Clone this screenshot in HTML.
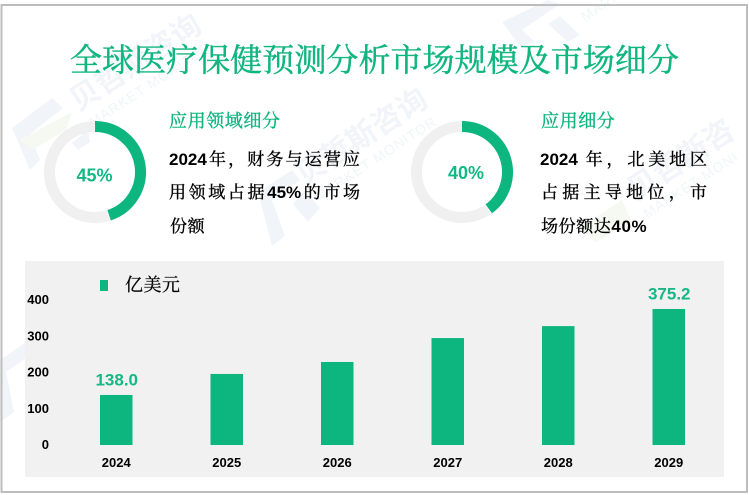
<!DOCTYPE html>
<html lang="zh">
<head>
<meta charset="utf-8">
<title>全球医疗保健预测分析市场规模及市场细分</title>
<style>
html,body{margin:0;padding:0;background:#fff;overflow:hidden;}
body{width:749px;height:495px;overflow:hidden;position:relative;}
svg{position:absolute;left:0;top:0;display:block;}
.sans{font-family:"Liberation Sans","Noto Sans CJK SC",sans-serif;font-weight:700;}
.line{position:absolute;white-space:nowrap;font-family:"Liberation Sans","Noto Serif CJK SC",serif;font-size:17px;line-height:22px;height:22px;color:#000;text-align:justify;text-align-last:justify;text-justify:inter-character;-webkit-text-stroke:.35px #000;}
.line.free{text-align-last:left;letter-spacing:.6px;}
.line b{font-family:"Liberation Sans",sans-serif;font-weight:700;-webkit-text-stroke:0;}
.head{position:absolute;white-space:nowrap;font-family:"Noto Serif CJK SC",serif;color:#10b57f;font-size:18px;letter-spacing:.6px;line-height:24px;-webkit-text-stroke:.4px #10b57f;}
</style>
</head>
<body>
<svg id="art" width="749" height="495" viewBox="0 0 749 495">
  <g fill="#f1f5f9">
    <g transform="translate(141,71) rotate(-33)">
      <text text-anchor="middle" font-family="Noto Sans CJK SC" font-size="30" font-weight="700">贝哲斯咨询</text>
      <text y="21" text-anchor="middle" font-family="Liberation Sans" font-size="14" letter-spacing="1">MARKET MONITOR</text>
    </g>
    <g transform="translate(367,145) rotate(-33)">
      <text text-anchor="middle" font-family="Noto Sans CJK SC" font-size="30" font-weight="700">贝哲斯咨询</text>
      <text y="21" text-anchor="middle" font-family="Liberation Sans" font-size="14" letter-spacing="1">MARKET MONITOR</text>
    </g>
    <g transform="translate(636,201) rotate(-33)">
      <text font-family="Noto Sans CJK SC" font-size="30" font-weight="700">贝哲斯咨</text>
      <text y="21" font-family="Liberation Sans" font-size="14" letter-spacing="1">MARKET MONI</text>
    </g>
    <g transform="translate(585,22) rotate(-33)">
      <text font-family="Liberation Sans" font-size="14" letter-spacing="1">MARK</text>
    </g>
    <polygon points="12,128 52,98 63,108 30,134 40,160 30,170"/>
    <polygon points="72,143 88,130 90,142 78,150"/>
    <polygon fill="#f6f9f1" points="20,140 72,112 66,130 32,150"/>
    <polygon points="258,192 292,170 300,180 272,200 285,236 272,246"/>
    <polygon points="305,190 320,208 308,222 293,204"/>
    <polygon points="502,22 548,0 560,4 522,30 535,42 520,46"/>
    <polygon points="560,16 580,35 568,42 548,24"/>
    <polygon fill="#f6f9f1" points="580,228 622,200 632,222 596,242"/>
    <polygon points="0,360 26,342 26,358 6,372 14,412 0,422"/>
  </g>
  <rect x="1.5" y="5" width="745.5" height="487" fill="none" stroke="#bdbdbd" stroke-width="2"/>
  <text x="70" y="71" font-size="32" letter-spacing=".05" fill="#10b57f" stroke="#10b57f" stroke-width=".45" style="font-family:'Noto Serif CJK SC',serif">全球医疗保健预测分析市场规模及市场细分</text>
  <g id="donuts"></g>
  <rect x="25" y="261" width="699" height="216" fill="#f1f1f1"/>
  <rect x="100" y="280" width="8" height="11" fill="#0db67f"/>
  <text x="125" y="291" font-size="18" letter-spacing=".5" fill="#000" stroke="#000" stroke-width=".25" style="font-family:'Noto Serif CJK SC',serif">亿美元</text>
  <g id="yaxis"></g>
  <g id="bars"></g>
  <g id="xaxis"></g>
</svg>

<div class="head" style="left:169px;top:108px;">应用领域细分</div>
<div class="line" style="left:169px;top:149px;width:191px;"><b>2024</b>年，财务与运营应</div>
<div class="line" style="left:169px;top:182px;width:191px;">用领域占据<b>45%</b>的市场</div>
<div class="line free" style="left:170px;top:216px;">份额</div>

<div class="head" style="left:541px;top:108px;">应用细分</div>
<div class="line" style="left:540px;top:149px;width:167px;"><b style="margin-right:4px">2024</b>年，北美地区</div>
<div class="line" style="left:541px;top:182px;width:166px;">占据主导地位，市</div>
<div class="line free" style="left:541px;top:216px;">场份额达<b>40%</b></div>

<script>
var categories = ["2024", "2025", "2026", "2027", "2028", "2029"];
var seriesValues = [138.0, 196, 229, 295, 328, 375.2];
var printedValues = ["138.0", "", "", "", "", "375.2"];
var yTicks = [0, 100, 200, 300, 400];
var donutPercents = [45, 40];
var donutNames = ["application-area", "application-segment"];

var NS = "http://www.w3.org/2000/svg";
var GREEN = "#0db67f";
var plot = {left: 61.5, right: 724.5, base: 445, top: 300, yMax: 400};

function yScale(v) { return plot.base - (v / plot.yMax) * (plot.base - plot.top); }
function xCenter(i) { return plot.left + (plot.right - plot.left) / categories.length * (i + 0.5) - 0.5; }

function make(tag, attrs, parent, txt) {
  var el = document.createElementNS(NS, tag);
  for (var k in attrs) el.setAttribute(k, attrs[k]);
  if (txt !== undefined) el.textContent = txt;
  parent.appendChild(el);
  return el;
}

var yGroup = document.getElementById("yaxis");
yTicks.forEach(function (t) {
  var el = make("text", {x: 49, y: yScale(t) + 4, "text-anchor": "end", "class": "sans", "font-size": 13, fill: "#000"}, yGroup, String(t));
  
  
});

var barWidth = 32.5;
var barGroup = document.getElementById("bars");
var xGroup = document.getElementById("xaxis");
categories.forEach(function (c, i) {
  var cx = xCenter(i);
  var top = yScale(seriesValues[i]);
  var bar = make("rect", {x: cx - barWidth / 2, y: top, width: barWidth, height: plot.base - top, fill: GREEN}, barGroup);
  
  
  if (printedValues[i]) {
    var lab = make("text", {x: cx + 0.5, y: top - 9.5, "text-anchor": "middle", "class": "sans", "font-size": 17, fill: "#13b884"}, barGroup, printedValues[i]);
    
    
  }
  var tick = make("text", {x: cx, y: 467, "text-anchor": "middle", "class": "sans", "font-size": 13, fill: "#000"}, xGroup, c);
  
  
});

function arcPath(cx, cy, r, a0, a1) {
  var s = (a0 - 90) * Math.PI / 180, e = (a1 - 90) * Math.PI / 180;
  var large = (a1 - a0) > 180 ? 1 : 0;
  return "M" + (cx + r * Math.cos(s)) + " " + (cy + r * Math.sin(s)) +
         "A" + r + " " + r + " 0 " + large + " 1 " + (cx + r * Math.cos(e)) + " " + (cy + r * Math.sin(e));
}

var donutGroup = document.getElementById("donuts");
var donutCenters = [95, 462];
var donutLabelX = [94.5, 466];
var donutLabelY = [181.5, 179];
donutPercents.forEach(function (p, i) {
  var cx = donutCenters[i], cy = 172, r = 45.5, sw = 11;
  var end = p * 3.6;
  var rest = make("path", {d: arcPath(cx, cy, r, end + 1, 359.5), fill: "none", stroke: "#f0f0f0", "stroke-width": sw}, donutGroup);
  
  
  var val = make("path", {d: arcPath(cx, cy, r, 0, end), fill: "none", stroke: GREEN, "stroke-width": sw}, donutGroup);
  
  
  var label = make("text", {x: donutLabelX[i], y: donutLabelY[i], "text-anchor": "middle", "class": "sans", "font-size": 18, fill: "#13b884"}, donutGroup, p + "%");
  
  
});
</script>
</body>
</html>
